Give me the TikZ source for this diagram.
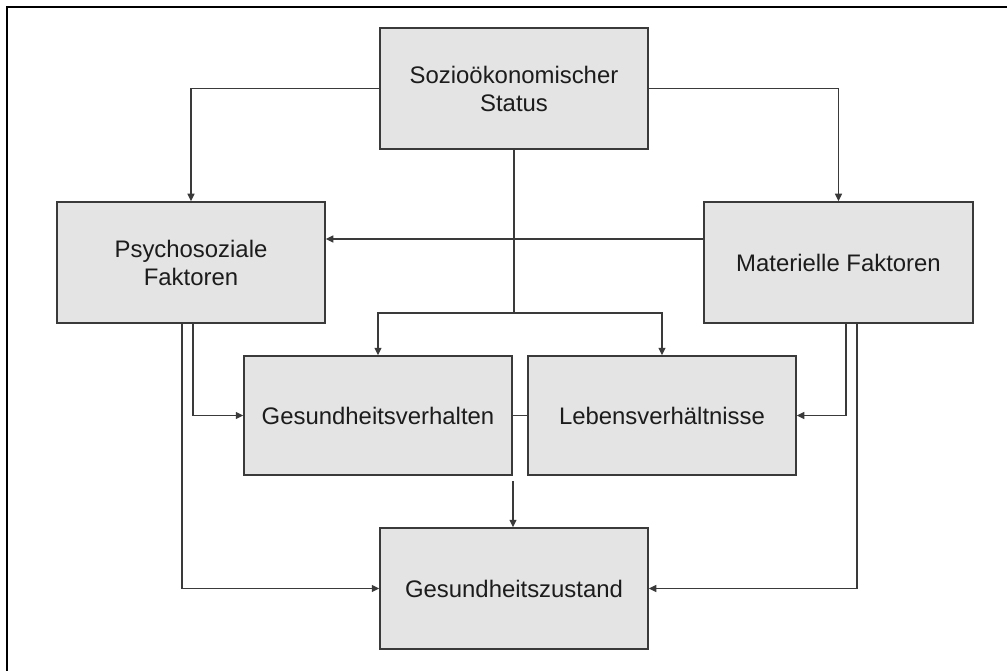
\documentclass[tikz,border=0pt]{standalone}
\usepackage{fontspec}
\setmainfont{Liberation Sans}
\usetikzlibrary{arrows.meta}
\definecolor{boxfill}{HTML}{E4E4E4}
\definecolor{boxline}{HTML}{3A3A3A}
\definecolor{txt}{HTML}{1C1C1C}
\tikzset{
  factor/.style={draw=boxline, fill=boxfill, line width=1.5pt,
    minimum width=268pt, minimum height=121pt, inner sep=0pt,
    align=center, text=txt, font=\fontsize{23.9}{28}\selectfont},
  link/.style={draw=boxline, line width=1.4pt},
  arr/.style={link, -{Triangle[length=7.5pt,width=7pt]}}
}
\begin{document}
\begin{tikzpicture}[x=1pt,y=-1pt]
\useasboundingbox (0,0) rectangle (1007,671);
% outer frame (left and top edges)
\draw[line width=2pt, black] (7,671) -- (7,7) -- (1007,7);

\node[factor] (ses) at (514,88.5) {Sozioökonomischer\\Status};
\node[factor] (psy) at (191,262.5) {Psychosoziale\\Faktoren};
\node[factor, minimum width=269pt] (mat) at (838.5,262.5) {Materielle Faktoren};
\node[factor, minimum height=119pt] (gv) at (378,415.5) {Gesundheitsverhalten};
\node[factor, minimum height=119pt] (lv) at (662,415.5) {Lebensverhältnisse};
\node[factor] (gz) at (514,588.5) {Gesundheitszustand};

% status to the two factor groups
\draw[arr] (ses.west) -| (psy.north);
\draw[arr] (ses.east) -| (mat.north);
\draw[arr] ([yshift=23.5pt]mat.west) -- ([yshift=23.5pt]psy.east);

% status down to behaviour and living conditions
\coordinate (split) at (514,313);
\draw[link] (ses.south) -- (split);
\draw[arr] (split) -| (gv.north);
\draw[arr] (split) -| (lv.north);

% psychosocial factors
\draw[arr] ([xshift=2pt]psy.south) |- (gv.west);
\draw[arr] ([xshift=-9pt]psy.south) |- (gz.west);

% material factors
\draw[arr] ([xshift=7.5pt]mat.south) |- (lv.east);
\draw[arr] ([xshift=18.5pt]mat.south) |- (gz.east);

% behaviour and living conditions to health status
\draw[link] (gv.east) -- (lv.west);
\coordinate (mid) at (513,481);
\draw[arr] (mid) -- (gz.north -| mid);
\end{tikzpicture}
\end{document}
